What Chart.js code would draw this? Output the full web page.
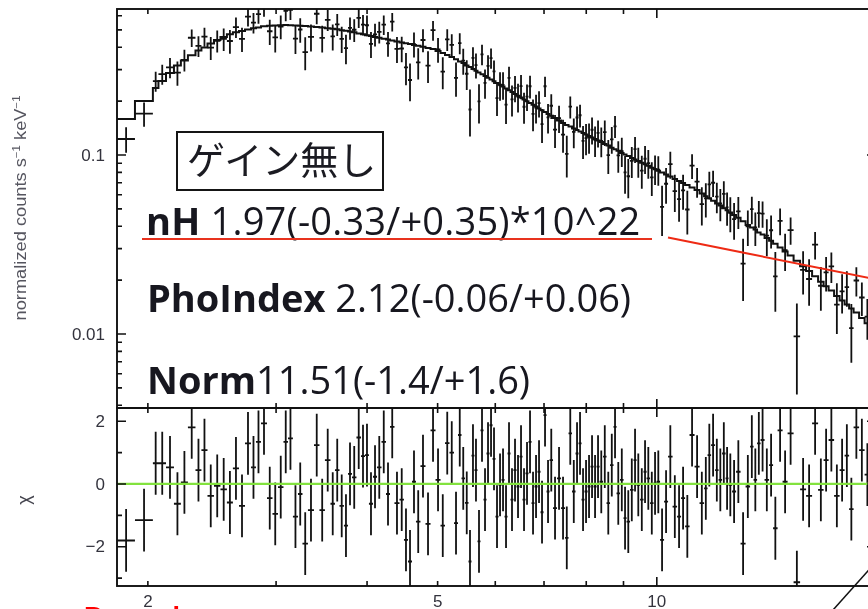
<!DOCTYPE html>
<html lang="ja">
<head>
<meta charset="utf-8">
<title>スペクトルフィット（ゲイン無し）</title>
<script src="https://cdn.jsdelivr.net/npm/chart.js@4.4.1/dist/chart.umd.min.js"></script>
<style>
  html, body { margin:0; padding:0; background:#fff; overflow:hidden; }
  #stage { position:relative; width:868px; height:609px; overflow:hidden; background:#fff; }
  #stage canvas { position:absolute; left:0; top:0; }
  .fit { position:absolute; white-space:nowrap; font-family:"Open Sans","Noto Sans",sans-serif;
         font-size:38px; line-height:38px; color:#17171f; }
  .fit b { font-weight:700; }
  #gainBox { position:absolute; left:176px; top:131px; width:204px; height:56px; border:2px solid #151515; }
  #gainText { position:absolute; left:187px; top:139px; font-family:"Noto Sans CJK JP",sans-serif;
              font-size:38px; line-height:38px; color:#1b1b22; white-space:nowrap; }
  #footNote { position:absolute; left:84px; top:604px; font-family:"Liberation Sans",Arial,sans-serif;
              font-weight:700; font-size:27px; line-height:27px; color:#ff0000; white-space:nowrap; }
  #marks { position:absolute; left:0; top:0; }
</style>
</head>
<body>
<div id="stage">
  <canvas id="spec" width="884" height="609"></canvas>
  <canvas id="chi" width="884" height="609"></canvas>
  <div id="gainBox"></div>
  <div id="gainText">ゲイン無し</div>
  <div class="fit" style="left:146px;top:201px;letter-spacing:0.2px"><b>nH</b> 1.97(-0.33/+0.35)*10^22</div>
  <div class="fit" style="left:147px;top:278px"><b>PhoIndex</b> 2.12(-0.06/+0.06)</div>
  <div class="fit" style="left:147px;top:360px"><b>Norm</b>11.51(-1.4/+1.6)</div>
  <div id="footNote">Power law</div>
  <svg id="marks" width="868" height="609">
    <line x1="142" y1="239" x2="652" y2="239" stroke="#e8321e" stroke-width="2"/>
    <line x1="668" y1="237.5" x2="884" y2="281" stroke="#ee2a14" stroke-width="2"/>
    <line x1="833" y1="610" x2="884" y2="553" stroke="#111" stroke-width="1.5"/>
  </svg>
</div>
<script>
// Energy bins (keV): bin i spans binEdges[i] .. binEdges[i+1]
const binEdges = [
  1.814,1.920,2.032,2.068,2.118,2.172,2.220,2.270,2.325,2.369,
  2.415,2.465,2.516,2.568,2.617,2.668,2.719,2.771,2.815,2.860,
  2.915,2.966,3.018,3.071,3.115,3.164,3.215,3.261,3.318,3.382,
  3.441,3.501,3.563,3.614,3.666,3.718,3.766,3.814,3.868,3.924,
  3.974,4.024,4.076,4.128,4.187,4.247,4.301,4.362,4.432,4.495,
  4.553,4.611,4.669,4.736,4.812,4.889,4.967,5.046,5.118,5.191,
  5.266,5.333,5.392,5.452,5.513,5.565,5.618,5.672,5.726,5.781,
  5.836,5.892,5.948,6.004,6.062,6.120,6.178,6.237,6.296,6.356,
  6.417,6.478,6.540,6.602,6.665,6.729,6.793,6.858,6.923,6.989,
  7.056,7.123,7.202,7.294,7.387,7.481,7.564,7.648,7.734,7.807,
  7.882,7.957,8.033,8.109,8.187,8.265,8.343,8.436,8.530,8.625,
  8.721,8.804,8.902,9.002,9.087,9.188,9.291,9.379,9.484,9.589,
  9.681,9.789,9.897,9.992,10.103,10.232,10.362,10.511,10.661,10.797,
  10.935,11.091,11.268,11.448,11.612,11.741,11.872,12.023,12.157,12.292,
  12.429,12.547,12.687,12.849,13.033,13.241,13.430,13.580,13.731,13.884,
  14.060,14.262,14.444,14.651,14.885,15.122,15.412,15.732,16.033,16.340,
  16.653,16.946,17.216,17.518,17.825,18.109,18.369,18.632,18.959,19.292,
  19.631,20.007
];

// Normalized counts s^-1 keV^-1 per bin
const rate = [
  .1229,.1701,.2585,.2831,.3085,.2883,.3396,.4519,.4067,.4583,
  .3979,.4347,.4454,.4334,.5188,.4453,.5934,.5490,.6132,.6660,
  .4914,.4536,.5224,.6390,.6467,.4464,.5024,.3759,.4572,.6154,
  .4508,.5694,.4598,.5372,.4458,.3957,.5133,.5008,.5841,.5355,
  .5308,.4180,.4720,.4875,.5354,.4201,.5559,.3916,.3937,.3088,
  .2624,.4168,.3296,.4390,.3161,.4981,.3891,.2925,.4425,.4122,
  .2700,.4219,.3366,.2844,.1796,.3491,.3182,.1994,.3651,.2531,
  .3149,.3481,.2935,.2079,.2454,.2467,.1912,.2700,.2044,.2369,
  .2114,.2424,.1861,.2120,.2422,.1699,.1837,.1947,.1489,.2422,
  .1624,.1885,.1385,.1607,.1301,.1015,.1862,.1345,.1620,.1668,
  .1201,.1243,.1258,.1384,.1210,.1331,.1198,.1342,.0998,.1224,
  .1447,.0995,.1052,.0799,.0761,.0927,.1080,.0922,.0819,.0953,
  .0901,.0751,.0837,.0829,.0513,.0691,.0890,.0628,.0567,.0635,
  .0496,.0873,.0711,.0532,.0572,.0685,.0700,.0586,.0536,.0607,
  .0510,.0475,.0438,.0484,.0247,.0400,.0498,.0394,.0473,.0471,
  .0355,.0380,.0210,.0429,.0294,.0381,.0097,.0228,.0203,.0316,
  .0186,.0221,.0239,.0146,.0173,.0183,.0108,.0199,.0160,.0125,
  .0123
];

// 1-sigma errors on rate
const rateErr = [
  .0200,.0262,.0331,.0363,.0402,.0443,.0472,.0505,.0536,.0557,
  .0588,.0614,.0639,.0661,.0679,.0691,.0704,.0716,.0723,.0734,
  .0791,.0794,.0796,.0798,.0797,.0794,.0792,.0788,.0783,.0778,
  .0772,.0767,.0762,.0756,.0747,.0741,.0735,.0728,.0717,.0709,
  .0700,.0692,.0684,.0677,.0669,.0662,.0655,.0647,.0638,.0632,
  .0626,.0660,.0653,.0644,.0635,.0626,.0610,.0594,.0616,.0599,
  .0583,.0567,.0555,.0538,.0527,.0515,.0503,.0492,.0481,.0470,
  .0460,.0449,.0439,.0429,.0444,.0434,.0423,.0414,.0404,.0395,
  .0386,.0377,.0368,.0360,.0351,.0343,.0336,.0327,.0320,.0313,
  .0305,.0298,.0289,.0280,.0272,.0265,.0260,.0253,.0248,.0244,
  .0252,.0247,.0243,.0238,.0234,.0229,.0225,.0219,.0215,.0209,
  .0204,.0200,.0195,.0192,.0188,.0183,.0179,.0176,.0172,.0169,
  .0165,.0161,.0158,.0155,.0160,.0156,.0152,.0147,.0143,.0140,
  .0136,.0138,.0134,.0128,.0124,.0121,.0117,.0113,.0110,.0106,
  .0108,.0105,.0102,.0098,.0094,.0090,.0087,.0084,.0081,.0079,
  .0083,.0080,.0077,.0073,.0069,.0066,.0051,.0062,.0059,.0055,
  .0051,.0048,.0046,.0046,.0043,.0041,.0039,.0037,.0034,.0032,
  .0030
];

// Folded absorbed power-law model per bin
const modelRate = [
  .1589,.2002,.2367,.2591,.2872,.3162,.3372,.3610,.3831,.3981,
  .4202,.4384,.4563,.4724,.4848,.4937,.5026,.5111,.5163,.5243,
  .5270,.5290,.5304,.5321,.5311,.5290,.5277,.5256,.5222,.5189,
  .5149,.5111,.5078,.5039,.4981,.4943,.4898,.4855,.4780,.4724,
  .4664,.4616,.4563,.4516,.4458,.4413,.4367,.4311,.4256,.4213,
  .4170,.4122,.4080,.4023,.3967,.3911,.3812,.3715,.3624,.3523,
  .3429,.3334,.3266,.3167,.3098,.3027,.2961,.2894,.2828,.2766,
  .2703,.2641,.2584,.2525,.2467,.2411,.2352,.2298,.2246,.2195,
  .2145,.2096,.2045,.1998,.1952,.1908,.1864,.1819,.1777,.1737,
  .1697,.1658,.1608,.1557,.1510,.1471,.1443,.1406,.1379,.1353,
  .1327,.1302,.1277,.1253,.1229,.1205,.1182,.1151,.1129,.1099,
  .1076,.1055,.1027,.1008,.0987,.0962,.0944,.0927,.0905,.0887,
  .0871,.0849,.0834,.0818,.0798,.0778,.0758,.0734,.0716,.0698,
  .0680,.0658,.0637,.0610,.0589,.0574,.0555,.0536,.0522,.0504,
  .0491,.0478,.0462,.0446,.0426,.0407,.0394,.0383,.0369,.0360,
  .0344,.0332,.0319,.0304,.0289,.0275,.0257,.0239,.0225,.0210,
  .0196,.0185,.0175,.0163,.0154,.0146,.0139,.0132,.0123,.0115,
  .0108
];

// Residuals in units of sigma
const delChi = [
  -1.80,-1.15,.66,.66,.53,-.63,.05,1.80,.44,1.08,
  -.38,-.06,-.17,-.59,.50,-.70,1.29,.53,1.34,1.93,
  -.45,-.95,-.10,1.34,1.45,-1.04,-.32,-1.90,-.83,1.24,
  -.83,.76,-.63,.44,-.70,-1.33,.32,.21,1.48,.89,
  .92,-.63,.23,.53,1.34,-.32,1.82,-.61,-.50,-1.78,
  -2.47,.07,-1.20,.57,-1.27,1.71,.13,-1.33,1.30,1.00,
  -1.25,1.56,.18,-.60,-2.47,.90,.44,-1.83,1.71,-.50,
  .97,1.87,.80,-1.04,-.03,.13,-1.04,.97,-.50,.44,
  -.08,.87,-.50,.34,1.34,-.61,-.08,.39,-.90,2.19,
  -.24,.76,-.77,.18,-.77,-1.72,1.61,-.24,.97,1.29,
  -.50,-.24,-.08,.55,-.08,.55,.07,.87,-.61,.60,
  1.82,-.30,.13,-1.09,-1.20,-.19,.76,-.03,-.50,.39,
  .18,-.61,.02,.07,-1.78,-.56,.87,-.72,-1.04,-.45,
  -1.35,1.56,.55,-.61,-.14,.92,1.24,.44,.13,.97,
  .18,-.03,-.24,.39,-1.90,-.08,1.19,.13,1.29,1.40,
  .13,.60,-1.41,1.71,.07,1.61,-3.13,-.17,-.38,1.93,
  -.19,.76,1.40,-.38,.44,.90,-.80,1.80,1.08,.30,
  .50
];

// Axis limits and ticks
const energyRange = [1.814, 20.0];
const rateRange = [0.003861, 0.6542];
const chiRange = [-3.25, 2.42];
const energyTickLabels = [2, 5, 10];
const energyMinorTicks = [2, 3, 4, 5, 6, 7, 8, 9, 20];
const energyMajorTicks = [10];
const rateTickLabels = [0.1, 0.01];
const rateMajorTicks = [0.01, 0.1];
const rateMinorTicks = [0.004,0.005,0.006,0.007,0.008,0.009,0.02,0.03,0.04,0.05,0.06,0.07,0.08,0.09,0.2,0.3,0.4,0.5,0.6];
const chiTickLabels = [2, 0, -2];
const chiMajorTicks = [-2, 0, 2];
const chiMinorTicks = [-3, -1, 1];

const W = 884, H = 609;
const PLOT_LEFT = 117, PLOT_RIGHT = 876, SPEC_TOP = 9, SPLIT = 408, CHI_BOTTOM = 586;
const LABEL_FONT = '17px "Liberation Sans", Arial, sans-serif';
const INK = '#111';

const nBins = rate.length;
const binMid = i => (binEdges[i] + binEdges[i + 1]) / 2;

function fmt(v) { return v < 0 ? '\u2212' + Math.abs(v) : String(v); }

// Border box plus inward ticks on all four sides
function drawFrame(chart, yMajor, yMinor) {
  const { ctx, chartArea: a, scales: { x, y } } = chart;
  ctx.save();
  ctx.strokeStyle = INK;
  ctx.lineWidth = 1.9;
  ctx.strokeRect(a.left, a.top, a.right - a.left, a.bottom - a.top);
  ctx.lineWidth = 1.6;
  ctx.beginPath();
  const xt = (vals, len) => vals.forEach(v => {
    const p = x.getPixelForValue(v);
    ctx.moveTo(p, a.top); ctx.lineTo(p, a.top + len);
    ctx.moveTo(p, a.bottom); ctx.lineTo(p, a.bottom - len);
  });
  const yt = (vals, len) => vals.forEach(v => {
    const p = y.getPixelForValue(v);
    ctx.moveTo(a.left, p); ctx.lineTo(a.left + len, p);
    ctx.moveTo(a.right, p); ctx.lineTo(a.right - len, p);
  });
  xt(energyMinorTicks, 5); xt(energyMajorTicks, 9);
  yt(yMinor, 5); yt(yMajor, 9);
  ctx.stroke();
  ctx.restore();
}

function drawYLabels(chart, values) {
  const { ctx, scales: { y } } = chart;
  ctx.save();
  ctx.font = LABEL_FONT;
  ctx.fillStyle = '#33333d';
  ctx.textAlign = 'right';
  ctx.textBaseline = 'middle';
  values.forEach(v => ctx.fillText(fmt(v), 105, y.getPixelForValue(v) + 1));
  ctx.restore();
}

// Vertical axis title with superscripts, fitted to a given length
function drawAxisTitle(ctx, parts, cx, cy, length) {
  ctx.save();
  ctx.translate(cx, cy);
  ctx.rotate(-Math.PI / 2);
  const base = '16px "Liberation Sans", Arial, sans-serif';
  const sup = '10px "Liberation Sans", Arial, sans-serif';
  let total = 0;
  parts.forEach(p => { ctx.font = p.sup ? sup : base; p.w = ctx.measureText(p.t).width; total += p.w; });
  const k = length / total;
  ctx.scale(k, 1);
  ctx.fillStyle = '#55555f';
  ctx.textBaseline = 'middle';
  let xx = -total / 2;
  parts.forEach(p => {
    ctx.font = p.sup ? sup : base;
    ctx.fillText(p.t, xx, p.sup ? -5 : 0);
    xx += p.w;
  });
  ctx.restore();
}

// Crosses: bin width horizontally, 1-sigma vertically
const spectrumBars = {
  id: 'spectrumBars',
  beforeDatasetsDraw(chart) {
    const { ctx, chartArea: a, scales: { x, y } } = chart;
    ctx.save();
    ctx.beginPath();
    ctx.rect(a.left, a.top, a.right - a.left, a.bottom - a.top);
    ctx.clip();
    ctx.strokeStyle = INK;
    ctx.lineWidth = 1.8;
    ctx.beginPath();
    for (let i = 0; i < nBins; i++) {
      const py = y.getPixelForValue(rate[i]);
      ctx.moveTo(x.getPixelForValue(binEdges[i]), py);
      ctx.lineTo(x.getPixelForValue(binEdges[i + 1]), py);
      const px = x.getPixelForValue(binMid(i));
      const lo = Math.max(rate[i] - rateErr[i], rateRange[0] * 0.5);
      ctx.moveTo(px, y.getPixelForValue(rate[i] + rateErr[i]));
      ctx.lineTo(px, y.getPixelForValue(lo));
    }
    ctx.stroke();
    ctx.restore();
  },
  afterDraw(chart) {
    drawFrame(chart, rateMajorTicks, rateMinorTicks);
    drawYLabels(chart, rateTickLabels);
    drawAxisTitle(chart.ctx, [
      { t: 'normalized counts s' }, { t: '\u22121', sup: true },
      { t: ' keV' }, { t: '\u22121', sup: true }
    ], 22, 208, 225);
  }
};

const residualBars = {
  id: 'residualBars',
  beforeDatasetsDraw(chart) {
    const { ctx, chartArea: a, scales: { x, y } } = chart;
    ctx.save();
    ctx.beginPath();
    ctx.rect(a.left, a.top, a.right - a.left, a.bottom - a.top);
    ctx.clip();
    ctx.strokeStyle = INK;
    ctx.lineWidth = 1.8;
    ctx.beginPath();
    for (let i = 0; i < nBins; i++) {
      const py = y.getPixelForValue(delChi[i]);
      ctx.moveTo(x.getPixelForValue(binEdges[i]), py);
      ctx.lineTo(x.getPixelForValue(binEdges[i + 1]), py);
      const px = x.getPixelForValue(binMid(i));
      ctx.moveTo(px, y.getPixelForValue(delChi[i] + 1));
      ctx.lineTo(px, y.getPixelForValue(delChi[i] - 1));
    }
    ctx.stroke();
    ctx.restore();
  },
  afterDraw(chart) {
    const { ctx, scales: { x } } = chart;
    drawFrame(chart, chiMajorTicks, chiMinorTicks);
    drawYLabels(chart, chiTickLabels);
    ctx.save();
    ctx.font = LABEL_FONT;
    ctx.fillStyle = '#33333d';
    ctx.textAlign = 'center';
    ctx.textBaseline = 'middle';
    energyTickLabels.forEach(v => ctx.fillText(String(v), x.getPixelForValue(v), 602));
    ctx.translate(25, 500);
    ctx.rotate(-Math.PI / 2);
    ctx.fillStyle = '#44444e';
    ctx.font = '18px "Liberation Sans", Arial, sans-serif';
    ctx.fillText('\u03c7', 0, 0);
    ctx.restore();
  }
};

function baseOptions(top, bottom, yScale) {
  return {
    responsive: false,
    animation: false,
    devicePixelRatio: 1,
    events: [],
    layout: { padding: { left: PLOT_LEFT, right: W - PLOT_RIGHT, top: top, bottom: H - bottom } },
    scales: {
      x: { type: 'logarithmic', min: energyRange[0], max: energyRange[1], bounds: 'data', display: false },
      y: yScale
    },
    plugins: { legend: { display: false }, tooltip: { enabled: false } }
  };
}

// Histogram outline: each bin value held flat from its lower edge to the next edge
const modelPoints = modelRate.map((v, i) => ({ x: binEdges[i], y: v }));
modelPoints.push({ x: binEdges[nBins], y: modelRate[nBins - 1] });

new Chart(document.getElementById('spec'), {
  type: 'scatter',
  data: {
    datasets: [
      { label: 'data', data: rate.map((v, i) => ({ x: binMid(i), y: v })), pointRadius: 0, showLine: false },
      { label: 'model', data: modelPoints, showLine: true, stepped: 'before', pointRadius: 0,
        borderColor: INK, borderWidth: 2.0, fill: false }
    ]
  },
  options: baseOptions(SPEC_TOP, SPLIT,
    { type: 'logarithmic', min: rateRange[0], max: rateRange[1], bounds: 'data', display: false }),
  plugins: [spectrumBars]
});

new Chart(document.getElementById('chi'), {
  type: 'scatter',
  data: {
    datasets: [
      { label: 'residual', data: delChi.map((v, i) => ({ x: binMid(i), y: v })), pointRadius: 0, showLine: false },
      { label: 'zero', data: [{ x: energyRange[0], y: 0 }, { x: energyRange[1], y: 0 }], showLine: true,
        pointRadius: 0, borderColor: '#82e23e', borderWidth: 2.2 }
    ]
  },
  options: baseOptions(SPLIT, CHI_BOTTOM,
    { type: 'linear', min: chiRange[0], max: chiRange[1], bounds: 'data', display: false }),
  plugins: [residualBars]
});
</script>
</body>
</html>
